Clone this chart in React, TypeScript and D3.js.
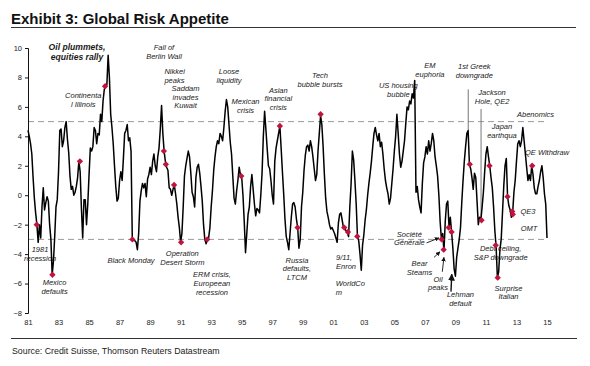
import React, { useEffect, useRef } from 'react'
import * as d3 from 'd3'

const FONT = '"Liberation Sans", Arial, Helvetica, sans-serif'
const START_YEAR = 1981

// Monthly readings of the risk appetite index, Jan 1981 onwards
const risk1981to1990 = [
  4.4, 4.0, 3.5, 2.8, 1.2, -0.2, -1.2, -2.0, -3.2, -2.0, -2.9, -0.8,
  0.5, -1.0, -0.5, -0.1, -0.4, -2.0, -3.0, -5.4, -4.5, -2.8, -0.8, -0.3,
  1.6, 4.4, 4.5, 3.3, 3.7, 4.6, 5.0, 3.8, 2.9, 1.3, 0.4, 0.6,
  0.0, 0.2, 0.6, 1.2, 2.3, 1.6, -0.9, -2.9, -0.3, -0.3, -2.0, -0.6,
  1.4, 3.2, 3.0, 3.3, 4.6, 4.4, 3.5, 4.2, 4.1, 5.5, 5.0, 6.4,
  7.2, 7.4, 7.5, 9.5, 8.0, 5.5, 4.6, 3.5, 2.0, 0.6, -0.4, -0.2,
  1.0, 1.6, 1.0, 2.5, 4.2, 4.4, 4.8, 3.7, 3.9, 3.0, -3.0, -3.0,
  -3.1, -3.2, -3.7, -2.6, -0.4, 0.3, 0.8, 0.5, 0.8, -0.1, 1.1, 1.4,
  1.9, 1.4, 2.3, 2.8, 2.0, 1.6, 2.6, 3.2, 4.5, 6.1, 4.2, 3.0,
  2.3, 1.9, 1.7, 0.5, 0.4, 0.0, 0.4, 0.7, 0.1, -0.6, -1.5, -2.2,
]
const risk1991to2000 = [
  -3.2, -2.6, -0.8, 1.3, 2.0, 2.5, 3.0, 2.6, 1.5, 0.2, -0.1, -0.8,
  1.2, 1.9, 2.1, 1.5, 0.6, -0.4, -2.0, -3.0, -3.3, -3.0, -2.9, -2.2,
  -0.8, 0.3, 1.7, 2.6, 3.3, 3.7, 3.5, 4.2, 4.0, 3.7, 4.6, 5.7,
  6.5, 6.0, 4.8, 3.6, 2.8, 1.3, -0.2, -0.6, 0.3, 1.0, 1.9, 1.4,
  1.2, 0.0, -1.8, -3.9, -2.6, -1.3, -0.8, 0.6, 1.4, 0.4, -0.6, -1.4,
  -0.9, -1.0, -1.2, 0.0, 1.5, 4.0, 5.7, 4.5, 3.2, 2.0, 1.8, 1.0,
  0.0, -0.6, 2.3, 3.2, 3.7, 4.2, 4.7, 3.2, 1.6, 0.1, -1.6, -2.8,
  -3.2, -3.7, -2.6, -1.5, -0.6, -0.5, -0.8, -1.6, -2.2, -3.6, -3.0, -0.8,
  0.2, 1.7, 2.7, 3.3, 3.4, 3.0, 3.7, 3.3, 2.6, 1.8, 1.0, 1.4,
  3.0, 4.2, 5.4, 4.8, 3.3, 1.4, -0.2, -1.1, -1.5, -2.0, -2.3, -2.2,
]
const risk2001to2010 = [
  -2.4, -2.6, -2.9, -3.2, -1.9, -1.3, -1.2, -1.7, -2.2, -2.3, -2.4, -2.5,
  -2.8, -0.8, 0.8, 3.0, 2.4, 1.0, -0.6, -2.8, -3.1, -4.0, -5.1, -3.4,
  -2.7, -1.7, -1.0, 0.0, 0.8, 1.5, 2.3, 3.3, 4.2, 4.6, 4.1, 3.7,
  4.2, 3.3, 3.6, 2.8, 1.8, 1.0, 0.5, 0.1, -0.6, -0.2, 0.8, 1.8,
  3.0, 4.0, 5.5, 4.2, 2.8, 1.9, 2.3, 3.0, 3.7, 4.9, 6.0, 5.8,
  6.4, 6.2, 6.9, 6.6, 7.8, 0.2, 0.6, -0.3, -0.8, -1.2, 0.8, 2.2,
  2.6, 3.3, 2.8, 3.7, 3.0, 3.5, 4.2, 3.7, 2.6, 2.0, 1.3, 0.0,
  -1.8, -3.0, -2.6, -3.8, -1.8, -0.6, -0.4, -2.2, -1.5, -2.5, -3.6, -5.0,
  -5.5, -4.2, -3.6, -3.0, -2.2, -0.5, 1.0, 2.3, 3.3, 4.2, 4.4, 2.1,
  1.8, 1.2, 0.4, 1.5, 1.2, -0.4, -2.0, -1.5, -1.7, -0.8, 0.2, 1.6,
]
const risk2011to2015 = [
  2.8, 3.3, 2.6, 2.0, 1.2, 0.5, -0.8, -2.4, -3.5, -5.6, -5.2, -3.7,
  -3.0, -1.2, 0.6, 2.0, 2.5, -0.1, -0.7, -1.0, -1.5, -1.2, 0.2, 1.0,
  2.3, 3.5, 3.7, 3.3, 3.7, 4.6, 3.7, 2.8, 1.9, 1.0, 1.4, 1.0,
  2.0, 1.4, 0.5, 0.1, 0.1, 0.6, 1.0, 1.6, 2.0, 1.2, 0.1, -0.6,
  -2.9,
]

const yTicks = [-8, -6, -4, -2, 0, 2, 4, 6, 8, 10]
const xTickYears = d3.range(1981, 2016, 2)
const thresholds = [5, -3]

// red event markers [year, value]
const eventMarkers: [number, number][] = [
  [1981.57, -2.0], [1982.6, -5.4], [1984.4, 2.3], [1986.05, 7.4], [1987.84, -3.0],
  [1989.9, 3.0], [1990.03, 2.1], [1990.57, 0.7], [1991.03, -3.2], [1992.74, -3.0],
  [1994.97, 1.3], [1997.5, 4.7], [1998.66, -2.2], [2000.17, 5.5], [2001.72, -2.2],
  [2001.96, -2.5], [2002.57, -2.8], [2008.1, -3.0], [2008.23, -3.7], [2008.56, -2.2],
  [2008.75, -2.5], [2009.94, 2.1], [2010.71, -1.7], [2011.23, 2.0], [2011.64, -3.4],
  [2011.77, -5.6], [2012.41, -0.1], [2012.72, -1.1], [2012.76, -1.3], [2014.03, 2.0],
]

// event labels, anchored at [year, value] of the first line
const annotations = [
  { lines: ['Oil plummets,', 'equities rally'], year: 1984.21, value: 9.86, bold: true },
  { lines: ['Continenta', 'l Illinois'], year: 1984.62, value: 6.58 },
  { lines: ['Fall of', 'Berlin Wall'], year: 1989.91, value: 9.86 },
  { lines: ['Nikkei', 'peaks'], year: 1989.94, value: 8.23, anchor: 'start' },
  { lines: ['Saddam', 'invades', 'Kuwait'], year: 1991.32, value: 7.08 },
  { lines: ['Loose', 'liquidity'], year: 1994.17, value: 8.21 },
  { lines: ['Mexican', 'crisis'], year: 1995.25, value: 6.18 },
  { lines: ['Asian', 'financial', 'crisis'], year: 1997.4, value: 6.96 },
  { lines: ['Tech', 'bubble bursts'], year: 2000.13, value: 7.94 },
  { lines: ['US housing', 'bubble'], year: 2005.26, value: 7.26 },
  { lines: ['EM', 'euphoria'], year: 2007.33, value: 8.62 },
  { lines: ['1st Greek', 'downgrade'], year: 2010.24, value: 8.55 },
  { lines: ['Jackson', 'Hole, QE2'], year: 2011.4, value: 6.82 },
  { lines: ['Abenomics'], year: 2014.25, value: 5.29 },
  { lines: ['Japan', 'earthqua'], year: 2012.05, value: 4.5 },
  { lines: ['QE Withdraw'], year: 2013.56, value: 2.73, anchor: 'start' },
  { lines: ['QE3'], year: 2013.26, value: -1.3, anchor: 'start' },
  { lines: ['OMT'], year: 2013.28, value: -2.45, anchor: 'start' },
  { lines: ['Debt ceiling,', 'S&P downgrade'], year: 2011.96, value: -3.8 },
  { lines: ['Surprise', 'Italian'], year: 2012.48, value: -6.49 },
  { lines: ['Lehman', 'default'], year: 2009.33, value: -6.91 },
  { lines: ['Oil', 'peaks'], year: 2007.86, value: -5.87 },
  { lines: ['Bear', 'Steams'], year: 2006.65, value: -4.81 },
  { lines: ['Société', 'Générale'], year: 2005.98, value: -2.82 },
  { lines: ['9/11,', 'Enron'], year: 2001.18, value: -4.4, anchor: 'start' },
  { lines: ['WorldCo', 'm'], year: 2001.16, value: -6.17, anchor: 'start' },
  { lines: ['Russia', 'defaults,', 'LTCM'], year: 1998.62, value: -4.57 },
  { lines: ['ERM crisis,', 'Europeean', 'recession'], year: 1993.05, value: -5.58 },
  { lines: ['Operation', 'Desert Storm'], year: 1991.11, value: -4.13 },
  { lines: ['Black Monday'], year: 1987.75, value: -4.58 },
  { lines: ['Mexico', 'defaults'], year: 1982.74, value: -6.12 },
  { lines: ['1981', 'recession'], year: 1981.79, value: -3.88 },
]

// arrows from label to event [[year, value], [year, value]]
const arrows: [number, number][][] = [
  [[2007.11, -3.24], [2007.92, -2.9]],
  [[2007.6, -4.22], [2007.99, -3.84]],
  [[2008.14, -5.2], [2008.25, -4.22]],
  [[2008.71, -6.55], [2008.76, -5.37]],
]
// plain pointer lines
const pointers: [number, number][][] = [
  [[2009.84, 7.19], [2009.84, 4.43]],
  [[2010.68, 5.86], [2010.68, -1.5]],
]

export default function App() {
  const svgRef = useRef<SVGSVGElement>(null)

  useEffect(() => {
    const svg = d3.select(svgRef.current)
    svg.selectAll('*').remove()

    const values = [...risk1981to1990, ...risk1991to2000, ...risk2001to2010, ...risk2011to2015]
    const series = values.map((v, i) => ({ year: START_YEAR + i / 12, value: v }))

    const x = d3.scaleLinear().domain([1981, 2015]).range([28, 547])
    const y = d3.scaleLinear().domain([-8, 10]).range([313, 48])

    // title + rules
    svg.append('text')
      .attr('x', 11).attr('y', 24)
      .attr('font-family', FONT).attr('font-weight', 'bold').attr('font-size', 15)
      .attr('fill', '#111')
      .text('Exhibit 3: Global Risk Appetite')
    svg.append('line')
      .attr('x1', 11).attr('x2', 576).attr('y1', 27.5).attr('y2', 27.5)
      .attr('stroke', '#333').attr('stroke-width', 1.2)
    svg.append('line')
      .attr('x1', 11).attr('x2', 577).attr('y1', 338.5).attr('y2', 338.5)
      .attr('stroke', '#333').attr('stroke-width', 1)
    svg.append('text')
      .attr('x', 12).attr('y', 354)
      .attr('font-family', FONT).attr('font-size', 8.8).attr('fill', '#222')
      .text('Source: Credit Suisse, Thomson Reuters Datastream')

    const defs = svg.append('defs')
    defs.append('marker')
      .attr('id', 'arrowhead')
      .attr('viewBox', '0 0 10 10')
      .attr('refX', 9).attr('refY', 5)
      .attr('markerWidth', 5).attr('markerHeight', 5)
      .attr('orient', 'auto')
      .append('path').attr('d', 'M0,0L10,5L0,10Z').attr('fill', '#111')

    // dashed thresholds
    svg.append('g').selectAll('line')
      .data(thresholds)
      .join('line')
      .attr('x1', x(1981)).attr('x2', x(2015))
      .attr('y1', d => y(d)).attr('y2', d => y(d))
      .attr('stroke', '#999').attr('stroke-width', 1)
      .attr('stroke-dasharray', '6,4')

    // annotation text
    const ann = svg.append('g')
      .attr('font-family', FONT).attr('font-style', 'italic').attr('fill', '#1a1a1a')
    annotations.forEach(a => {
      const t = ann.append('text')
        .attr('x', x(a.year)).attr('y', y(a.value))
        .attr('text-anchor', a.anchor || 'middle')
        .attr('font-size', a.bold ? 8.6 : 7.5)
        .attr('font-weight', a.bold ? 'bold' : 'normal')
      a.lines.forEach((line, i) => {
        t.append('tspan')
          .attr('x', x(a.year))
          .attr('dy', i === 0 ? 0 : (a.bold ? 10 : 8.7))
          .text(line)
      })
    })

    // pointer lines
    svg.append('g').selectAll('line')
      .data(pointers)
      .join('line')
      .attr('x1', d => x(d[0][0])).attr('y1', d => y(d[0][1]))
      .attr('x2', d => x(d[1][0])).attr('y2', d => y(d[1][1]))
      .attr('stroke', '#777').attr('stroke-width', 1)

    // axes
    const yAxis = svg.append('g')
      .attr('transform', `translate(${x(1981)},0)`)
      .call(d3.axisLeft(y).tickValues(yTicks).tickSize(3).tickSizeOuter(3).tickPadding(3))
    yAxis.attr('font-family', FONT).attr('font-size', 7.5)
    yAxis.selectAll('path,line').attr('stroke', '#111')
    yAxis.selectAll('text').attr('fill', '#222')

    const xAxis = svg.append('g')
      .attr('transform', 'translate(0,317)')
      .call(d3.axisBottom(x).tickValues(xTickYears).tickSize(0).tickPadding(3)
        .tickFormat(d => String(Number(d) % 100).padStart(2, '0')))
    xAxis.attr('font-family', FONT).attr('font-size', 7.5)
    xAxis.select('.domain').remove()
    xAxis.selectAll('text').attr('fill', '#222')

    // series
    const line = d3.line<{ year: number; value: number }>()
      .x(d => x(d.year))
      .y(d => y(d.value))
    svg.append('path')
      .datum(series)
      .attr('d', line)
      .attr('fill', 'none')
      .attr('stroke', '#000')
      .attr('stroke-width', 1.5)
      .attr('stroke-linejoin', 'round')

    // event markers
    svg.append('g').selectAll('path')
      .data(eventMarkers)
      .join('path')
      .attr('d', d3.symbol(d3.symbolSquare, 20))
      .attr('transform', d => `translate(${x(d[0])},${y(d[1])}) rotate(45)`)
      .attr('fill', '#c1133d')

    // arrows
    svg.append('g').selectAll('line')
      .data(arrows)
      .join('line')
      .attr('x1', d => x(d[0][0])).attr('y1', d => y(d[0][1]))
      .attr('x2', d => x(d[1][0])).attr('y2', d => y(d[1][1]))
      .attr('stroke', '#111')
      .attr('stroke-width', (d, i) => (i === 3 ? 1.4 : 0.9))
      .attr('marker-end', 'url(#arrowhead)')
  }, [])

  return (
    <svg
      ref={svgRef}
      width={590}
      height={366}
      style={{ position: 'absolute', left: 0, top: 0, background: '#fff' }}
    />
  )
}
